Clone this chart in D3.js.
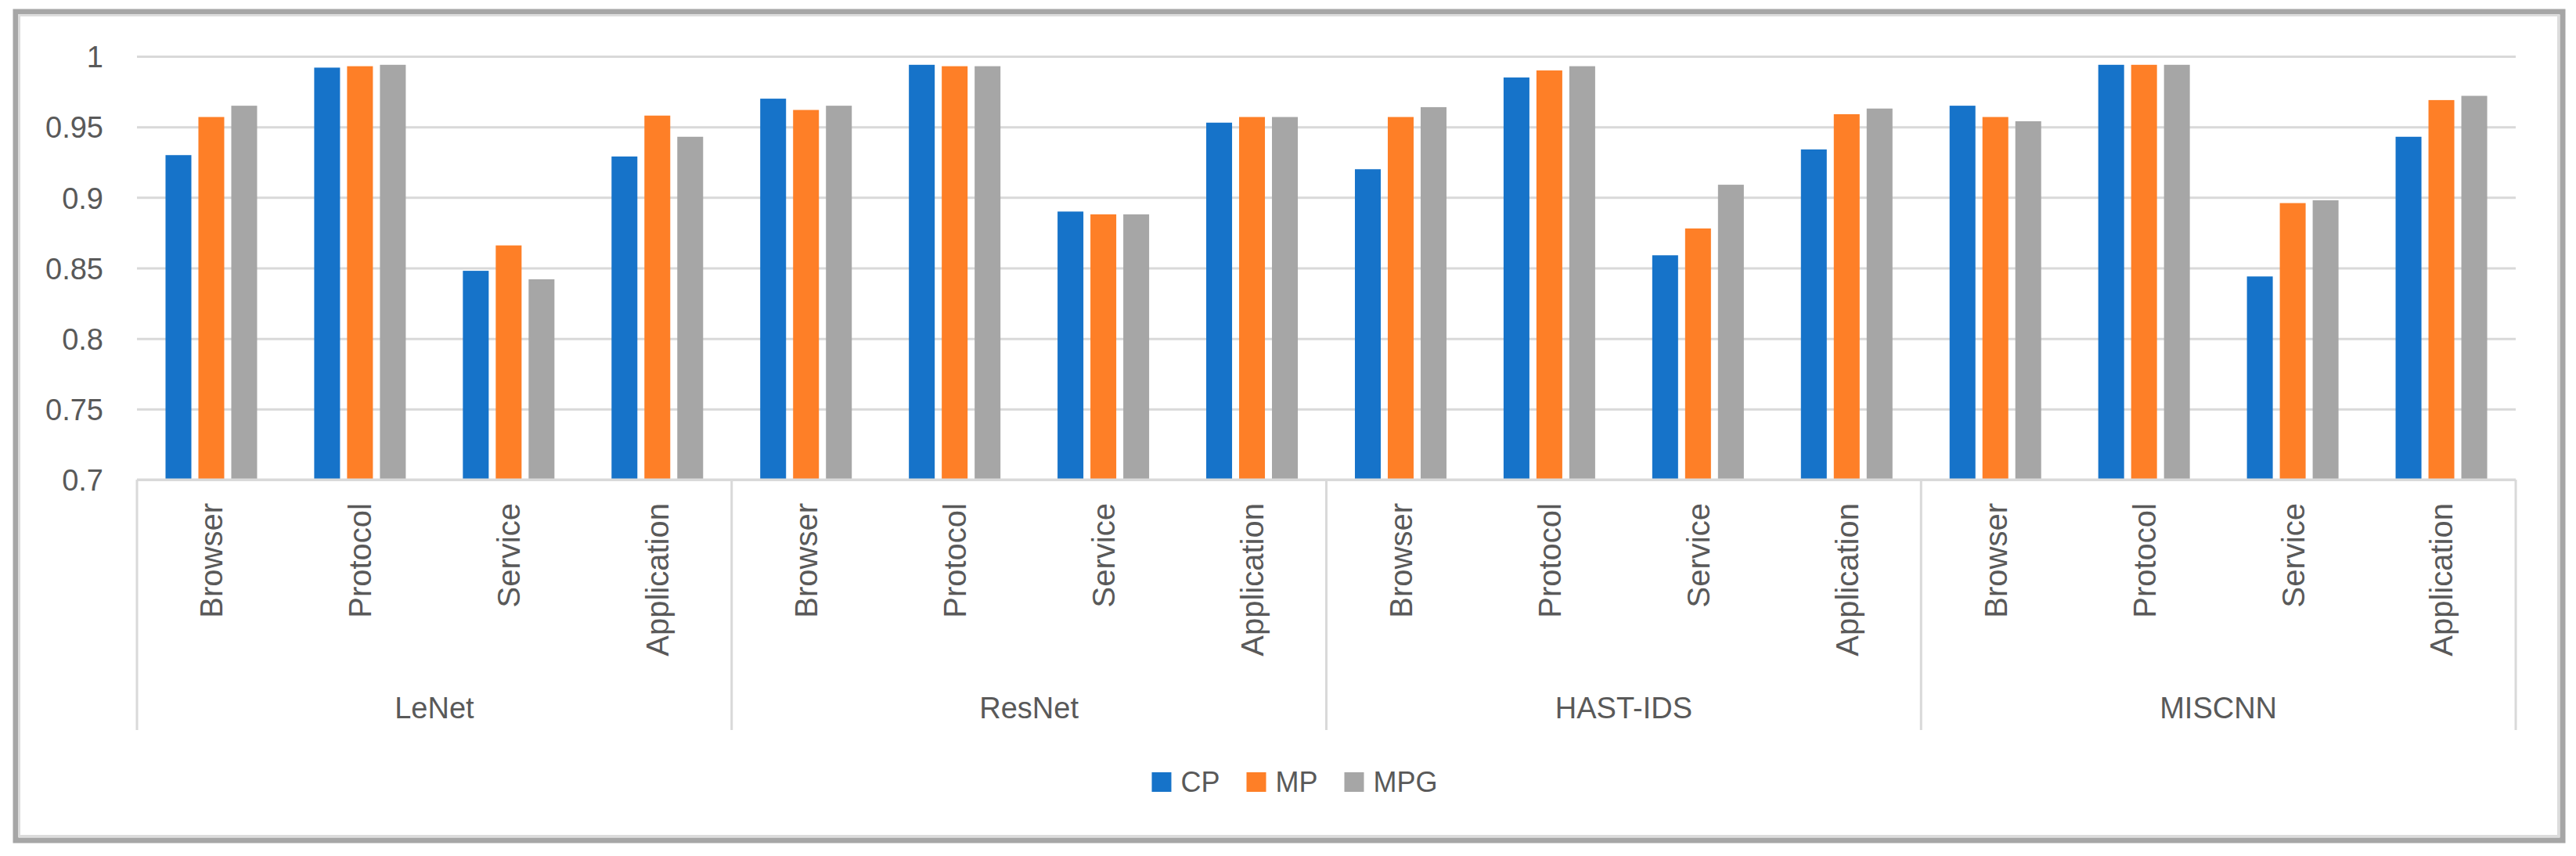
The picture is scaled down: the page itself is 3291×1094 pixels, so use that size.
<!DOCTYPE html>
<html>
<head>
<meta charset="utf-8">
<script src="https://cdn.jsdelivr.net/npm/d3@7"></script>
<style>
  body { margin: 0; background: #fff; }
  text { font-family: "Liberation Sans", Arial, sans-serif; fill: #595959; }
</style>
</head>
<body>
<div class="chart"></div>
<script>
var W = 3291, H = 1094;
var plot = {left: 175, right: 3214, top: 72, bottom: 613};

let groups = ['LeNet', 'ResNet', 'HAST-IDS', 'MISCNN'];
let subcats = ['Browser', 'Protocol', 'Service', 'Application'];
let seriesNames = ['CP', 'MP', 'MPG'];
let colors = ['#1673C9', '#FE7F27', '#A6A6A6'];

// one value per group/subcategory, in the order above
let cpValues = [0.930, 0.992, 0.848, 0.929, 0.970, 0.994, 0.890, 0.953, 0.920, 0.985, 0.859, 0.934, 0.965, 0.994, 0.844, 0.943];
let mpValues = [0.957, 0.993, 0.866, 0.958, 0.962, 0.993, 0.888, 0.957, 0.957, 0.990, 0.878, 0.959, 0.957, 0.994, 0.896, 0.969];
let mpgValues = [0.965, 0.994, 0.842, 0.943, 0.965, 0.993, 0.888, 0.957, 0.964, 0.993, 0.909, 0.963, 0.954, 0.994, 0.898, 0.972];

let yTicks = [0.7, 0.75, 0.8, 0.85, 0.9, 0.95, 1];

let seriesValues = [cpValues, mpValues, mpgValues];

let cats = [];
groups.forEach(g => subcats.forEach(s => cats.push({group: g, sub: s, key: g + '|' + s})));

let svg = d3.select('.chart')
  .append('svg')
  .attr('width', W)
  .attr('height', H)
;

// outer frame
svg.append('rect')
  .attr('x', 20).attr('y', 15)
  .attr('width', 3254).attr('height', 1059)
  .style('fill', '#fff')
  .style('stroke', '#A6A6A6')
  .style('stroke-width', 7);
svg.append('rect')
  .attr('x', 24.5).attr('y', 19.5)
  .attr('width', 3244).attr('height', 1049)
  .style('fill', 'none')
  .style('stroke', '#DCDCDC')
  .style('stroke-width', 3);

//scales
let x0 = d3.scaleBand()
  .domain(cats.map(d => d.key))
  .range([plot.left, plot.right])
  .paddingInner(0.384)
  .paddingOuter(0.192);

let x1 = d3.scaleBand()
  .domain(seriesNames)
  .range([0, x0.bandwidth()])
  .paddingInner(0.214);

let xGroup = d3.scaleBand()
  .domain(groups)
  .range([plot.left, plot.right]);

let yScale = d3.scaleLinear()
  .domain([0.7, 1])
  .range([plot.bottom, plot.top]);

// gridlines
let grid = svg.append('g')
  .attr('transform', `translate(${plot.left}, 0)`)
  .call(d3.axisLeft(yScale).tickValues(yTicks).tickSize(-(plot.right - plot.left)).tickFormat(''));
grid.select('.domain').remove();
grid.selectAll('line').style('stroke', '#D9D9D9').style('stroke-width', 3);

// y labels
let yAxis = svg.append('g')
  .attr('transform', `translate(${plot.left}, 0)`)
  .call(d3.axisLeft(yScale).tickValues(yTicks).tickSize(0).tickPadding(43).tickFormat(d => String(d)));
yAxis.select('.domain').remove();
yAxis.selectAll('text')
  .style('font-size', '38px')
  .style('font-family', '"Liberation Sans", Arial, sans-serif')
  .style('fill', '#595959')
  .attr('dy', '0.36em');

// bars
seriesNames.forEach((name, i) => {
  svg.append('g')
    .selectAll('rect')
    .data(cats.map((c, j) => ({key: c.key, value: seriesValues[i][j]})))
    .enter()
    .append('rect')
    .attr('x', d => x0(d.key) + x1(name))
    .attr('y', d => yScale(d.value))
    .attr('width', x1.bandwidth())
    .attr('height', d => yScale(0.7) - yScale(d.value))
    .style('fill', colors[i]);
});

// category axis: separators
let sepX = groups.map(g => xGroup(g)).concat([plot.right]);
svg.append('g')
  .selectAll('line')
  .data(sepX)
  .enter()
  .append('line')
  .attr('x1', d => d).attr('x2', d => d)
  .attr('y1', plot.bottom).attr('y2', 933)
  .style('stroke', '#D9D9D9')
  .style('stroke-width', 3);

svg.append('line')
  .attr('x1', plot.left).attr('x2', plot.right)
  .attr('y1', plot.bottom).attr('y2', plot.bottom)
  .style('stroke', '#D9D9D9')
  .style('stroke-width', 3);

// sub-category labels (rotated)
svg.append('g')
  .selectAll('text')
  .data(cats)
  .enter()
  .append('text')
  .attr('transform', d => `translate(${x0(d.key) + x0.bandwidth() / 2}, 643) rotate(-90)`)
  .attr('dy', '0.36em')
  .style('text-anchor', 'end')
  .style('font-size', '40px')
  .text(d => d.sub);

// group labels
svg.append('g')
  .selectAll('text')
  .data(groups)
  .enter()
  .append('text')
  .attr('x', d => xGroup(d) + xGroup.bandwidth() / 2)
  .attr('y', 918)
  .style('text-anchor', 'middle')
  .style('font-size', '38px')
  .text(d => d);

// legend
let legend = svg.append('g');
let lx = 0;
seriesNames.forEach((name, i) => {
  legend.append('rect')
    .attr('x', lx).attr('y', 987)
    .attr('width', 25).attr('height', 25)
    .style('fill', colors[i]);
  let t = legend.append('text')
    .attr('x', lx + 37).attr('y', 1012)
    .style('font-size', '36px')
    .text(name);
  lx += 37 + t.node().getComputedTextLength() + 34;
});
lx -= 34;
legend.attr('transform', `translate(${1654 - lx / 2}, 0)`);
</script>
</body>
</html>
